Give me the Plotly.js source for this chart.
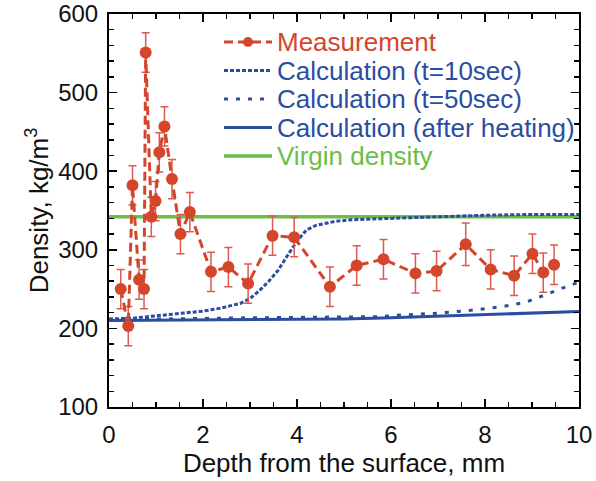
<!DOCTYPE html>
<html>
<head>
<meta charset="utf-8">
<script src="https://cdn.plot.ly/plotly-3.0.1.min.js"></script>
<style>html,body{margin:0;padding:0;background:#fff;}#chart{width:596px;height:481px;}</style>
</head>
<body>
<div id="chart"></div>
<script>
// Measurement
const measDepth = [0.25, 0.41, 0.50, 0.64, 0.745, 0.78, 0.90, 0.99, 1.07, 1.18, 1.34, 1.52, 1.72, 2.17, 2.54, 2.96, 3.48, 3.94, 4.70, 5.27, 5.84, 6.52, 6.97, 7.59, 8.12, 8.62, 9.01, 9.24, 9.47];
const measDensity = [250, 203, 382, 262, 250, 551, 342, 362, 424, 457, 390, 320, 348, 272, 278, 257, 318, 316, 253, 280, 288, 270, 273, 307, 275, 267, 295, 271, 281];
const measError = [25, 25, 25, 25, 25, 25, 25, 25, 25, 25, 25, 25, 25, 25, 25, 25, 25, 25, 25, 25, 25, 25, 25, 27, 25, 25, 25, 25, 25];
// Calculation t=10sec
const calc10Depth = [0, 0.5, 1.0, 1.5, 2.0, 2.4, 2.8, 3.0, 3.2, 3.4, 3.6, 3.8, 4.0, 4.2, 4.4, 4.8, 5.1, 5.5, 6.0, 7.0, 8.0, 9.0, 10];
const calc10Density = [212, 213, 216, 219, 222, 226, 232, 238, 248, 260, 274, 293, 311, 325, 331, 336, 338, 339, 340, 342, 344, 345, 345];
// Calculation t=50sec
const calc50Depth = [0, 1, 2, 3, 4, 5, 5.8, 6.2, 6.9, 7.7, 8.4, 8.85, 9.1, 9.3, 9.5, 9.75, 10];
const calc50Density = [211, 212, 213, 213.5, 214, 214.5, 215, 217, 219, 223, 228, 233, 238, 243, 248, 254, 259];
// Calculation after heating
const calcAfterDepth = [0, 2, 4, 5, 6, 7, 8, 9, 10];
const calcAfterDensity = [210, 210.5, 211, 212, 213.5, 215.5, 217.5, 219.5, 221.5];
// Virgin density
const virginDepth = [0, 10];
const virginDensity = [342, 342];

const legendNames = ["Measurement", "Calculation (t=10sec)", "Calculation (t=50sec)", "Calculation (after heating)", "Virgin density"];

const RED = "#d4462c", BLUE = "#2a4d9f", GREEN = "#6cbd46";
const FONT = "Liberation Sans, Arial, Helvetica, sans-serif";

const styles = [
  {color: RED, width: 3, dash: "9px,5px"},
  {color: BLUE, width: 3, dash: "4px,2px"},
  {color: BLUE, width: 3, dash: "4px,8px"},
  {color: BLUE, width: 3, dash: "solid"},
  {color: GREEN, width: 3.5, dash: "solid"}
];

const traces = [
  {x: virginDepth, y: virginDensity, type: "scatter", mode: "lines", name: legendNames[4], line: styles[4]},
  {x: calcAfterDepth, y: calcAfterDensity, type: "scatter", mode: "lines", name: legendNames[3], line: styles[3]},
  {x: calc50Depth, y: calc50Density, type: "scatter", mode: "lines", name: legendNames[2], line: styles[2]},
  {x: calc10Depth, y: calc10Density, type: "scatter", mode: "lines", name: legendNames[1], line: styles[1]},
  {x: measDepth, y: measDensity, type: "scatter", mode: "lines+markers", name: legendNames[0],
   line: styles[0], marker: {color: RED, size: 12},
   error_y: {type: "data", array: measError, visible: true, color: "#dc5a50", thickness: 1.5, width: 4}}
];

// Manual legend (paper coordinates), matching the original's compact layout
const L = 109, T = 14, PW = 470, PH = 393;
const px2x = p => (p - L) / PW;
const px2y = p => 1 - (p - T) / PH;
const legRows = [42, 70.5, 99, 127.5, 156];
const shapes = [], annotations = [];
legendNames.forEach((nm, i) => {
  const yc = px2y(legRows[i]);
  shapes.push({type: "line", xref: "paper", yref: "paper", x0: px2x(224), x1: px2x(272), y0: yc, y1: yc,
               line: {color: styles[i].color, width: styles[i].width, dash: styles[i].dash}});
  annotations.push({xref: "paper", yref: "paper", x: px2x(275), y: yc, xanchor: "left", yanchor: "middle",
                    showarrow: false, text: nm, font: {family: FONT, size: 26, color: styles[i].color}});
});
shapes.push({type: "circle", xref: "paper", yref: "paper", fillcolor: RED, line: {color: RED, width: 0},
             x0: px2x(243), x1: px2x(253), y0: px2y(legRows[0] + 5), y1: px2y(legRows[0] - 5)});

const layout = {
  width: 596, height: 481,
  margin: {l: L, r: 596 - L - PW, t: T, b: 481 - T - PH},
  paper_bgcolor: "#fff", plot_bgcolor: "#fff",
  font: {family: FONT, size: 24, color: "#111"},
  showlegend: false,
  shapes: shapes, annotations: annotations,
  xaxis: {range: [0, 10], dtick: 2, tick0: 0, ticks: "inside", ticklen: 8, tickwidth: 1.5, tickcolor: "#000",
          showline: true, linecolor: "#000", linewidth: 2, mirror: "ticks", showgrid: false, zeroline: false,
          tickfont: {size: 24, family: FONT, color: "#111"}, ticklabelstandoff: 5,
          minor: {dtick: 0.5, ticks: "inside", ticklen: 5, tickwidth: 1.5, tickcolor: "#000", showgrid: false},
          title: {text: "Depth from the surface, mm", font: {size: 26, family: FONT, color: "#111"}, standoff: 1}},
  yaxis: {range: [100, 600], dtick: 100, tick0: 0, ticks: "inside", ticklen: 8, tickwidth: 1.5, tickcolor: "#000",
          showline: true, linecolor: "#000", linewidth: 2, mirror: "ticks", showgrid: false, zeroline: false,
          tickfont: {size: 24, family: FONT, color: "#111"}, ticklabelstandoff: 4,
          minor: {dtick: 20, ticks: "inside", ticklen: 5, tickwidth: 1.5, tickcolor: "#000", showgrid: false},
          title: {text: "Density, kg/m<sup>3</sup>", font: {size: 26, family: FONT, color: "#111"}, standoff: 2}}
};

Plotly.newPlot("chart", traces, layout, {staticPlot: true, displayModeBar: false});
</script>
</body>
</html>
